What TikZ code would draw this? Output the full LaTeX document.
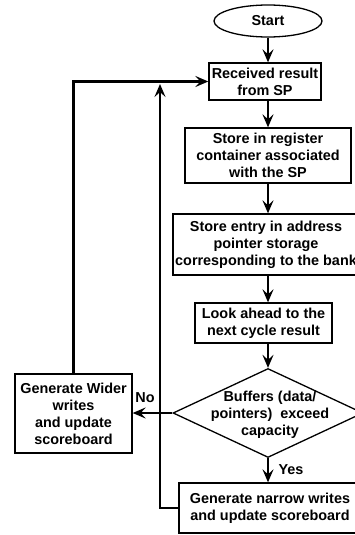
\documentclass[tikz,border=0pt]{standalone}
\usepackage{fontspec}
\setmainfont{Liberation Sans}
\usetikzlibrary{shapes.geometric,arrows.meta}
\begin{document}
\begin{tikzpicture}[x=1pt,y=-1pt,
  every node/.style={font=\fontsize{14.4}{17}\selectfont\bfseries, align=center, inner sep=0pt},
  box/.style={draw=black, line width=1.3pt, rectangle},
  conn/.style={line width=2.8pt, -{Stealth[length=13pt,width=11pt,inset=5pt]}},
  plain/.style={line width=2.8pt}]
\useasboundingbox (0,0) rectangle (355,535);
\clip (0,0) rectangle (355,535);
\fill[white] (0,0) rectangle (355,535);
\node[draw, line width=1.3pt, ellipse, minimum width=108pt, minimum height=32pt] (start) at (268,21) {Start};
\node[box, minimum width=112pt, minimum height=37pt] (recv) at (265,81.5) {Received result\\from SP};
\node[box, minimum width=166pt, minimum height=55pt] (reg) at (268,155.5) {Store in register\\container associated\\with the SP};
\node[box, minimum width=186pt, minimum height=61pt] (entry) at (266,244.5) {Store entry in address\\pointer storage\\corresponding to the bank};
\node[box, minimum width=137pt, minimum height=40pt] (look) at (263.5,323) {Look ahead to the\\next cycle result};
\node[draw, line width=1.3pt, diamond, minimum width=190pt, minimum height=89pt] (dia) at (268,413) {};
\node (diatext) at (270,415) {Buffers (data/\\pointers)\ \ exceed\\capacity};
\node[box, minimum width=117pt, minimum height=79pt] (wider) at (73.5,413.5) {Generate Wider\\writes\\and update\\scoreboard};
\node[box, minimum width=182pt, minimum height=50pt] (narrow) at (270,508) {Generate narrow writes\\and update scoreboard};
\node (no) at (145,398) {No};
\node (yes) at (291,470) {Yes};
\coordinate (loopc) at (160,84);
\draw[conn] (start.south) -- (start.south |- recv.north);
\draw[conn] (recv.south -| start.south) -- (start.south |- reg.north);
\draw[conn] (reg.south) -- (reg.south |- entry.north);
\draw[conn] (entry.south -| reg.south) -- (reg.south |- look.north);
\draw[conn] (look.south -| dia.north) -- (dia.north);
\draw[conn] (dia.south) -- (dia.south |- narrow.north);
\draw[conn] (dia.west) -- (wider.east |- dia.west);
\draw[conn] (wider.north) |- (recv.west);
\draw[conn] (narrow.west) -| (loopc);
\end{tikzpicture}
\end{document}
